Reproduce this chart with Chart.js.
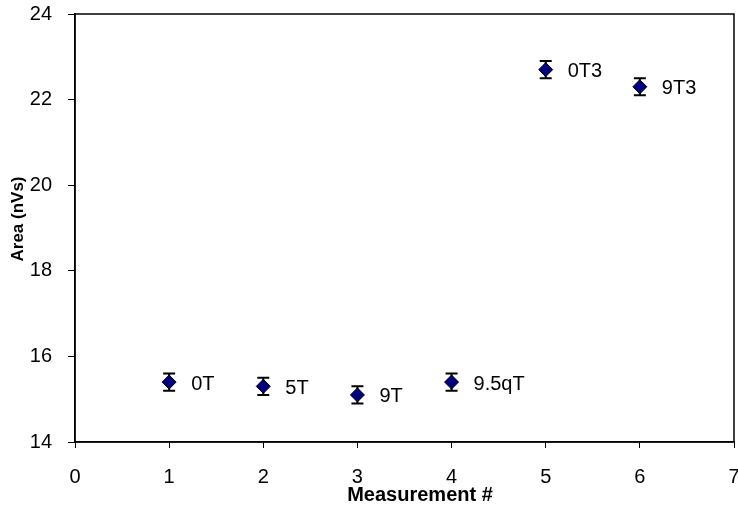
<!DOCTYPE html>
<html>
<head>
<meta charset="utf-8">
<script src="https://cdn.jsdelivr.net/npm/chart.js@4/dist/chart.umd.min.js"></script>
<style>
  html, body { margin: 0; padding: 0; background: #fff; overflow: hidden; }
  canvas { display: block; }
</style>
</head>
<body>
<canvas id="areaChart" width="738" height="510"></canvas>
<script>
// measurement number, area and error for each run
const measurement = [1, 2, 3, 4, 5, 6];
const area = [15.4, 15.3, 15.1, 15.4, 22.7, 22.3];
const areaErr = [0.2, 0.2, 0.2, 0.2, 0.2, 0.2];
const runNames = ["0T", "5T", "9T", "9.5qT", "0T3", "9T3"];

const FONT = "'Liberation Sans', Arial, sans-serif";

// error bars drawn under the markers
const errorBars = {
  id: "errorBars",
  beforeDatasetsDraw(chart) {
    const ctx = chart.ctx;
    const xs = chart.scales.x;
    const ys = chart.scales.y;
    ctx.save();
    ctx.strokeStyle = "#000";
    ctx.lineWidth = 2;
    for (let i = 0; i < measurement.length; i++) {
      const px = xs.getPixelForValue(measurement[i]);
      const top = ys.getPixelForValue(area[i] + areaErr[i]);
      const bot = ys.getPixelForValue(area[i] - areaErr[i]);
      ctx.beginPath();
      ctx.moveTo(px, top);
      ctx.lineTo(px, bot);
      ctx.moveTo(px - 6, top);
      ctx.lineTo(px + 6, top);
      ctx.moveTo(px - 6, bot);
      ctx.lineTo(px + 6, bot);
      ctx.stroke();
    }
    ctx.restore();
  },
};

// run names beside the points, the frame and both axis titles
const pointNames = {
  id: "pointNames",
  afterDatasetsDraw(chart) {
    const ctx = chart.ctx;
    const xs = chart.scales.x;
    const ys = chart.scales.y;
    ctx.save();
    ctx.fillStyle = "#000";
    ctx.font = "20px " + FONT;
    ctx.textAlign = "left";
    ctx.textBaseline = "middle";
    for (let i = 0; i < measurement.length; i++) {
      const px = xs.getPixelForValue(measurement[i]);
      const py = ys.getPixelForValue(area[i]);
      ctx.fillText(runNames[i], px + 22, py + 2);
    }
    const a = chart.chartArea;
    ctx.strokeStyle = "#000";
    ctx.lineWidth = 1.5;
    ctx.strokeRect(a.left, a.top, a.right - a.left, a.bottom - a.top);

    ctx.textAlign = "center";
    ctx.font = "bold 20px " + FONT;
    ctx.fillText("Measurement #", 420, 495);

    ctx.translate(18, 219);
    ctx.rotate(-Math.PI / 2);
    ctx.font = "bold 17px " + FONT;
    ctx.fillText("Area (nVs)", 0, 0);
    ctx.restore();
  },
};

const ctx = document.getElementById("areaChart").getContext("2d");
const myChart = new Chart(ctx, {
  type: "scatter",
  data: {
    datasets: [
      {
        label: "Area",
        data: measurement.map((m, i) => ({ x: m, y: area[i] })),
        pointStyle: "rectRot",
        pointRadius: 7,
        pointHoverRadius: 7,
        backgroundColor: "#000080",
        borderColor: "#000",
        borderWidth: 1,
      },
    ],
  },
  options: {
    responsive: false,
    animation: false,
    layout: { autoPadding: false, padding: { top: 14, right: 4, left: 0, bottom: 0 } },
    plugins: {
      legend: { display: false },
      tooltip: { enabled: false },
    },
    scales: {
      x: {
        type: "linear",
        min: 0,
        max: 7,
        ticks: {
          stepSize: 1,
          color: "#000",
          padding: 17,
          font: { family: FONT, size: 20 },
        },
        grid: { drawOnChartArea: false, color: "#000", tickLength: 6 },
        border: { color: "#000", width: 1.5 },
        title: { display: false },
        afterFit(scale) {
          scale.height = 68;
          scale.paddingLeft = 0;
          scale.paddingRight = 0;
        },
      },
      y: {
        min: 14,
        max: 24,
        ticks: {
          stepSize: 2,
          color: "#000",
          padding: 16,
          font: { family: FONT, size: 20 },
        },
        grid: { drawOnChartArea: false, color: "#000", tickLength: 7 },
        border: { color: "#000", width: 1.5 },
        title: { display: false },
        afterFit(scale) {
          scale.width = 75;
          scale.paddingTop = 0;
          scale.paddingBottom = 0;
        },
      },
    },
  },
  plugins: [errorBars, pointNames],
});
</script>
</body>
</html>
